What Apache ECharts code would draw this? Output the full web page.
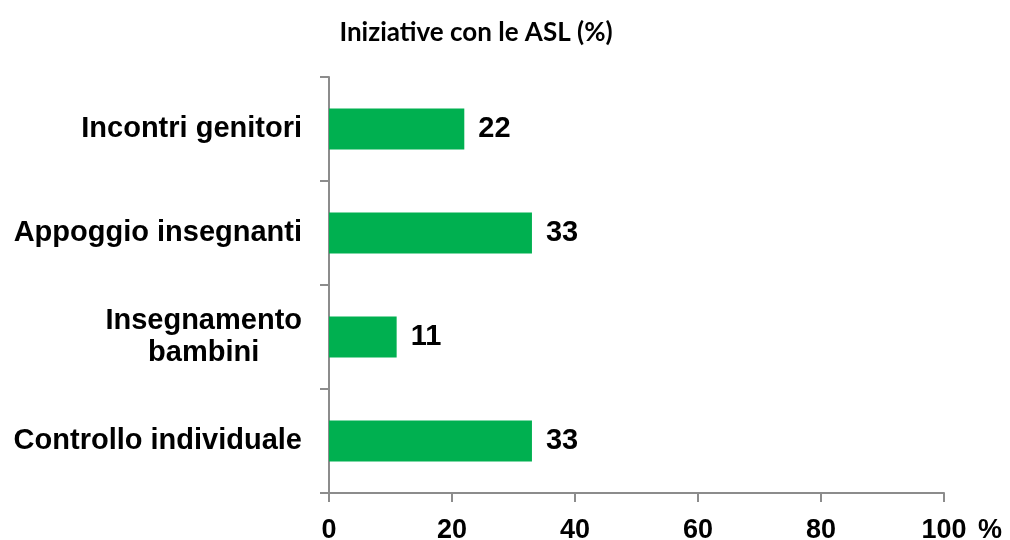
<!DOCTYPE html>
<html>
<head>
<meta charset="utf-8">
<script src="https://cdn.jsdelivr.net/npm/echarts@6/dist/echarts.min.js"></script>
<style>
  html, body { margin: 0; padding: 0; background: #fff; }
  #chart { width: 1010px; height: 540px; }
</style>
</head>
<body>
<div id="chart"></div>
<script>
// dati
const categories = ['Incontri genitori', 'Appoggio insegnanti', 'Insegnamento\nbambini', 'Controllo individuale']
const values = [22, 33, 11, 33]
const xTicks = [0, 20, 40, 60, 80, 100]

const chart = echarts.init(document.getElementById('chart'))
const axisColor = '#8c8c8c'

const option = {
  animation: false,
  title: {
    text: 'Iniziative con le ASL (%)',
    left: 471,
    textAlign: 'center',
    top: 15,
    textStyle: { fontFamily: 'Lato', fontWeight: 'bold', fontSize: 26, color: '#000' }
  },
  grid: { left: 329, right: 66, top: 77, bottom: 47, outerBoundsMode: 'none', containLabel: false },
  xAxis: {
    type: 'value',
    min: xTicks[0],
    max: xTicks[xTicks.length - 1],
    interval: xTicks[1] - xTicks[0],
    name: '%',
    nameLocation: 'end',
    nameGap: 34,
    nameTextStyle: {
      fontFamily: 'Liberation Sans', fontWeight: 'bold', fontSize: 27, color: '#000',
      verticalAlign: 'top', padding: [24, 0, 0, 0]
    },
    axisLine: { show: true, lineStyle: { color: axisColor, width: 2 } },
    axisTick: { show: true, length: 9, lineStyle: { color: axisColor, width: 2 } },
    splitLine: { show: false },
    axisLabel: {
      margin: 24,
      fontFamily: 'Liberation Sans', fontWeight: 'bold', fontSize: 27, color: '#000'
    }
  },
  yAxis: {
    type: 'category',
    inverse: true,
    data: categories,
    axisLine: { show: true, lineStyle: { color: axisColor, width: 2 } },
    axisTick: { show: true, length: 9, lineStyle: { color: axisColor, width: 2 } },
    axisLabel: {
      margin: 27,
      fontFamily: 'Liberation Sans', fontWeight: 'bold', fontSize: 29, color: '#000',
      lineHeight: 32,
      formatter: function (v) {
        if (v.indexOf('\n') >= 0) {
          return v.split('\n').map(s => '{c|' + s + '}').join('\n')
        }
        return v
      },
      rich: {
        c: { align: 'center', fontFamily: 'Liberation Sans', fontWeight: 'bold', fontSize: 29, color: '#000', lineHeight: 32 }
      }
    }
  },
  series: [
    {
      type: 'bar',
      data: values,
      barWidth: 41,
      itemStyle: { color: '#00B050' },
      label: {
        show: true,
        position: 'right',
        distance: 14,
        fontFamily: 'Liberation Sans', fontWeight: 'bold', fontSize: 29, color: '#000'
      }
    }
  ]
}

chart.setOption(option)
</script>
</body>
</html>
